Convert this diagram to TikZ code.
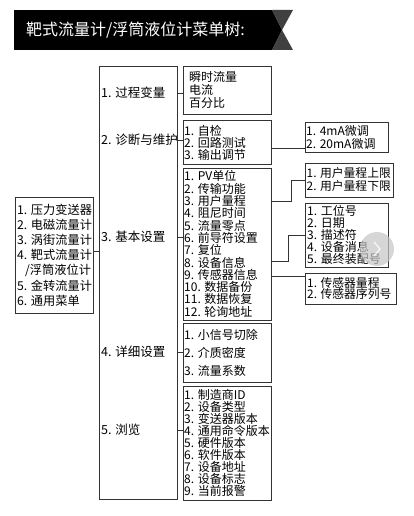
\documentclass[tikz,border=0pt]{standalone}
\usepackage{fontspec}
\setmainfont{Noto Sans CJK SC}
\begin{document}
\begin{tikzpicture}[x=1pt,y=-1pt,
  bx/.style={draw=black!80,line width=0.7pt,anchor=north west,inner sep=0pt,outer sep=0pt},
  txt/.style={anchor=west,align=left,inner sep=0pt},
  ln/.style={draw=black!80,line width=0.7pt},
  fs/.style 2 args={font=\fontsize{#1}{#2}\selectfont},
]
\useasboundingbox (0,0) rectangle (414,516);
\fill[white] (0,0) rectangle (414,516);
% title banner
\fill[black] (14,10) rectangle (272,50);
\fill[black] (272,10) -- (282,30) -- (272,50) -- cycle;
\fill[black!75] (272,10) -- (293,10) -- (282,30) -- cycle;
\fill[black!75] (272,50) -- (293,50) -- (282,30) -- cycle;
\node[txt,text=white,fs={16}{16}] (title) at (26,30) {靶式流量计/浮筒液位计菜单树:};

% left box
\node[bx,minimum width=78pt,minimum height=116pt] (L) at (15,197) {};
\node[txt,fs={12.2}{15.2}] (Lt) at ([xshift=2pt]L.west) {1. 压力变送器\\2. 电磁流量计\\3. 涡街流量计\\4. 靶式流量计\\\hspace*{8pt}/浮筒液位计\\5. 金转流量计\\6. 通用菜单};

% column box
\node[bx,minimum width=78pt,minimum height=433pt] (col) at (99,66) {};
\node[txt,fs={12.5}{13}] (c1) at (101,93) {1. 过程变量};
\node[txt,fs={12.5}{13}] (c2) at (101,140) {2. 诊断与维护};
\node[txt,fs={12.5}{13}] (c3) at (101,237) {3. 基本设置};
\node[txt,fs={12.5}{13}] (c4) at (101,352) {4. 详细设置};
\node[txt,fs={12.5}{13}] (c5) at (101,430) {5. 浏览};

% second column boxes
\node[bx,minimum width=88pt,minimum height=48pt] (A) at (183,66) {};
\node[txt,fs={12}{13}] (At) at ([xshift=6pt]A.west) {瞬时流量\\电流\\百分比};
\node[bx,minimum width=88pt,minimum height=44pt] (B) at (183,120) {};
\node[txt,fs={12}{10.5}] (Bt) at ([xshift=1pt,yshift=-1pt]B.west) {1. 自检\\2. 回路测试\\3. 输出调节};
\node[bx,minimum width=88pt,minimum height=152pt] (C) at (183,168) {};
\node[txt,fs={12}{12.3}] (Ct) at ([xshift=1pt]C.west) {1. PV单位\\2. 传输功能\\3. 用户量程\\4. 阻尼时间\\5. 流量零点\\6. 前导符设置\\7. 复位\\8. 设备信息\\9. 传感器信息\\10. 数据备份\\11. 数据恢复\\12. 轮询地址};
\node[bx,minimum width=88pt,minimum height=59pt] (D) at (183,323) {};
\node[txt,fs={12}{18}] (Dt) at ([xshift=1pt]D.west) {1. 小信号切除\\2. 介质密度\\3. 流量系数};
\node[bx,minimum width=88pt,minimum height=114pt] (E) at (183,386) {};
\node[txt,fs={12}{12}] (Et) at ([xshift=1pt]E.west) {1. 制造商ID\\2. 设备类型\\3. 变送器版本\\4. 通用命令版本\\5. 硬件版本\\6. 软件版本\\7. 设备地址\\8. 设备标志\\9. 当前报警};

% third column boxes
\node[bx,minimum width=83pt,minimum height=30pt] (F) at (305,122) {};
\node[txt,fs={12}{13}] (Ft) at ([xshift=1pt]F.west) {1. 4mA微调\\2. 20mA微调};
\node[bx,minimum width=88pt,minimum height=34pt] (G) at (305,163) {};
\node[txt,fs={11.8}{13}] (Gt) at ([xshift=1.5pt]G.west) {1. 用户量程上限\\2. 用户量程下限};
\node[bx,minimum width=83pt,minimum height=64pt] (H) at (305,203) {};
\node[txt,fs={12}{11.8}] (Ht) at ([xshift=2pt]H.west) {1. 工位号\\2. 日期\\3. 描述符\\4. 设备消息\\5. 最终装配号};
\node[bx,minimum width=91pt,minimum height=31pt] (I) at (305,273) {};
\node[txt,fs={11.8}{11.5}] (It) at ([xshift=2pt]I.west) {1. 传感器量程\\2. 传感器序列号};

% overlay circle
\fill[gray!45,opacity=0.7] (377,249) circle (17pt);
\draw[white,line width=1pt] (374,242) -- (380,249) -- (374,256);

% connectors
\coordinate (lt) at ([yshift=4pt]L.east);
\draw[ln] (lt) -- (lt -| col.west);
\draw[ln] (col.east |- c1) -- (A.west |- c1);
\draw[ln] (col.east |- c2) -- (B.west |- c2);
\draw[ln] (col.east |- c3) -- (C.west |- c3);
\draw[ln] (col.east |- c4) -- (D.west |- c4);
\draw[ln] (col.east |- c5) -- (E.west |- c5);
\coordinate (bf) at (290,148);
\draw[ln] (B.east |- bf) -- (F.west |- bf);
\coordinate (cg) at (291,201);
\draw[ln] (C.east |- cg) -- (cg) |- (G.west);
\coordinate (ch) at (288,261);
\draw[ln] (C.east |- ch) -- (ch) |- (H.west);
\coordinate (ci) at (300,276);
\draw[ln] (C.east |- ci) -- (I.west |- ci);
\end{tikzpicture}
\end{document}
